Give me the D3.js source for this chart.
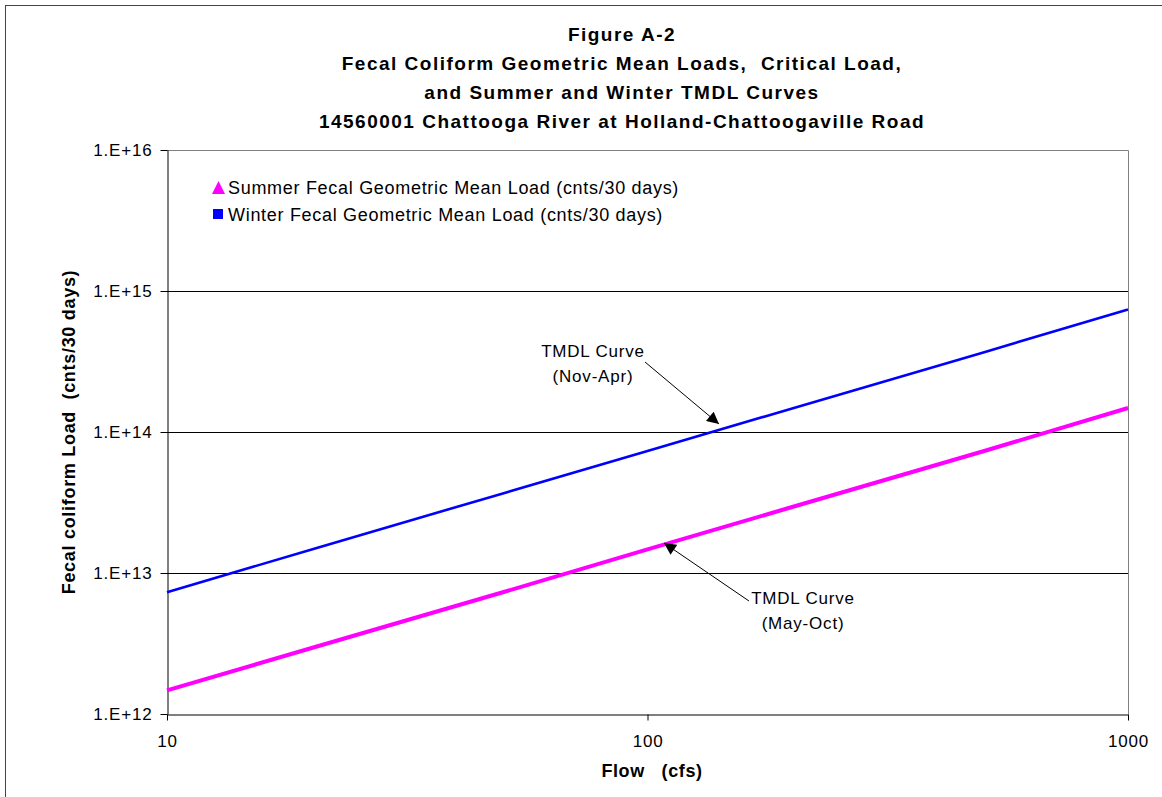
<!DOCTYPE html>
<html>
<head>
<meta charset="utf-8">
<script src="https://cdn.jsdelivr.net/npm/d3@7"></script>
<style>
  body { margin: 0; background: #fff; }
  text { font-family: Arial, "Liberation Sans", sans-serif; }
</style>
</head>
<body>
<div id="chart"></div>
<script>
// Flow (cfs) and TMDL loads (cnts/30 days)
const flows = [10, 20, 50, 100, 200, 500, 1000]
const winterLoads = [7.3e12, 1.47e13, 3.67e13, 7.34e13, 1.47e14, 3.67e14, 7.4e14]
const summerLoads = [1.47e12, 2.94e12, 7.3e12, 1.47e13, 2.94e13, 7.3e13, 1.48e14]
const xTicks = [10, 100, 1000]
const yTicks = [1e12, 1e13, 1e14, 1e15, 1e16]
const yTickLabels = ['1.E+12', '1.E+13', '1.E+14', '1.E+15', '1.E+16']
const titleLines = [
  'Figure A-2',
  'Fecal Coliform Geometric Mean Loads,  Critical Load,',
  'and Summer and Winter TMDL Curves',
  '14560001 Chattooga River at Holland-Chattoogaville Road'
]
const legendItems = [
  {label: 'Summer Fecal Geometric Mean Load (cnts/30 days)', color: '#ff00ff', shape: 'triangle'},
  {label: 'Winter Fecal Geometric Mean Load (cnts/30 days)', color: '#0000ff', shape: 'square'}
]

const w = 1162
const h = 797
const plotL = 167, plotR = 1128, plotT = 150, plotB = 714

const svg = d3.select('#chart')
  .append('svg')
  .attr('width', w)
  .attr('height', h)

// outer frame
svg.append('rect')
  .attr('x', 5.5).attr('y', 5.5)
  .attr('width', w + 10).attr('height', h + 10)
  .attr('fill', 'none')
  .attr('stroke', '#444')

const xScale = d3.scaleLog().domain([10, 1000]).range([plotL, plotR])
const yScale = d3.scaleLog().domain([1e12, 1e16]).range([plotB, plotT])

// title
svg.append('g').selectAll('text')
  .data(titleLines)
  .enter()
  .append('text')
    .attr('x', 622)
    .attr('y', (d, i) => 41 + i * 29)
    .attr('text-anchor', 'middle')
    .style('font-size', '19px')
    .style('font-weight', 'bold')
    .style('letter-spacing', '1.5px')
    .style('white-space', 'pre')
    .text(d => d)

// gridlines
svg.append('g').selectAll('line')
  .data(yTicks.slice(1, 4))
  .enter()
  .append('line')
    .attr('x1', plotL).attr('x2', plotR)
    .attr('y1', d => Math.round(yScale(d)) + 0.5)
    .attr('y2', d => Math.round(yScale(d)) + 0.5)
    .attr('stroke', '#000')

// plot frame top/right (gray)
svg.append('path')
  .attr('d', `M${plotL},${plotT + 0.5}H${plotR + 0.5}V${plotB}`)
  .attr('fill', 'none')
  .attr('stroke', '#808080')

const tickFont = g => g.selectAll('text')
  .style('font-size', '17px')
  .style('letter-spacing', '0.8px')
  .style('font-family', 'Arial, "Liberation Sans", sans-serif')

// y-axis
const yAxis = d3.axisLeft(yScale)
  .tickValues(yTicks)
  .tickFormat((d, i) => yTickLabels[i])
  .tickSizeOuter(0)
  .tickSizeInner(7)
  .tickPadding(8)
svg.append('g')
  .attr('transform', `translate(${plotL + 0.5}, 0)`)
  .call(yAxis)
  .call(tickFont)
  .call(g => g.selectAll('line,path').attr('stroke', '#000'))

// x-axis
const xAxis = d3.axisBottom(xScale)
  .tickValues(xTicks)
  .tickFormat(d3.format('d'))
  .tickSizeOuter(0)
  .tickSizeInner(6)
  .tickPadding(14)
svg.append('g')
  .attr('transform', `translate(0, ${plotB + 0.5})`)
  .call(xAxis)
  .call(tickFont)
  .call(g => g.selectAll('line,path').attr('stroke', '#000'))

// axis titles
svg.append('text')
  .attr('x', 652)
  .attr('y', 777)
  .attr('text-anchor', 'middle')
  .style('font-size', '18px')
  .style('font-weight', 'bold')
  .style('letter-spacing', '0.6px')
  .style('white-space', 'pre')
  .text('Flow   (cfs)')

svg.append('text')
  .attr('transform', 'rotate(-90)')
  .attr('x', -432)
  .attr('y', 75)
  .attr('text-anchor', 'middle')
  .style('font-size', '18px')
  .style('font-weight', 'bold')
  .style('letter-spacing', '0.7px')
  .style('white-space', 'pre')
  .text('Fecal coliform Load  (cnts/30 days)')

// TMDL curves
const line = d3.line()
  .x(d => xScale(d[0]))
  .y(d => yScale(d[1]))

svg.append('path')
  .datum(flows.map((f, i) => [f, summerLoads[i]]))
  .attr('d', line)
  .attr('fill', 'none')
  .attr('stroke', '#ff00ff')
  .attr('stroke-width', 4)

svg.append('path')
  .datum(flows.map((f, i) => [f, winterLoads[i]]))
  .attr('d', line)
  .attr('fill', 'none')
  .attr('stroke', '#0000ff')
  .attr('stroke-width', 2.6)

// legend
const legend = svg.append('g')
  .attr('transform', 'translate(212, 187)')
legendItems.forEach((item, i) => {
  const g = legend.append('g').attr('transform', `translate(0, ${i * 27})`)
  if (item.shape === 'triangle') {
    g.append('path').attr('d', 'M6.5,-6L13,7H0Z').attr('fill', item.color)
  } else {
    g.append('rect').attr('x', 1).attr('y', -5).attr('width', 10).attr('height', 10).attr('fill', item.color)
  }
  g.append('text')
    .attr('x', 16)
    .attr('y', 7)
    .style('font-size', '18px')
    .style('letter-spacing', '0.7px')
    .text(item.label)
})

// annotation arrows
svg.append('defs').append('marker')
  .attr('id', 'arrow')
  .attr('viewBox', '0 0 10 10')
  .attr('refX', 10).attr('refY', 5)
  .attr('markerWidth', 16).attr('markerHeight', 12)
  .attr('markerUnits', 'userSpaceOnUse')
  .attr('orient', 'auto')
  .append('path')
    .attr('d', 'M0,0L10,5L0,10Z')
    .attr('fill', '#000')

const notes = [
  {lines: ['TMDL Curve', '(Nov-Apr)'], x: 593, y: 357, from: [645, 362], to: [719, 424]},
  {lines: ['TMDL Curve', '(May-Oct)'], x: 803, y: 604, from: [749, 601], to: [664, 543]}
]
notes.forEach(n => {
  const t = svg.append('text')
    .attr('x', n.x)
    .attr('y', n.y)
    .attr('text-anchor', 'middle')
    .style('font-size', '17px')
    .style('letter-spacing', '0.8px')
  n.lines.forEach((l, i) => {
    t.append('tspan').attr('x', n.x).attr('dy', i ? 25 : 0).text(l)
  })
  svg.append('line')
    .attr('x1', n.from[0]).attr('y1', n.from[1])
    .attr('x2', n.to[0]).attr('y2', n.to[1])
    .attr('stroke', '#000')
    .attr('stroke-width', 1)
    .attr('marker-end', 'url(#arrow)')
})
</script>
</body>
</html>
